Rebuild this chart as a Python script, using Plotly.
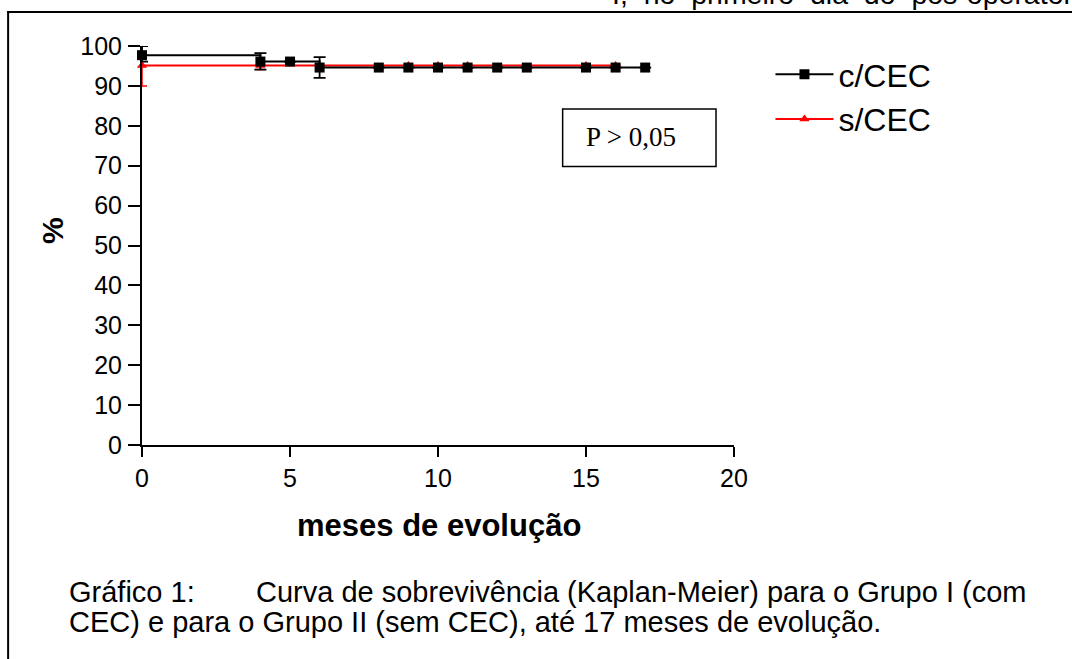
import plotly.graph_objects as go

# Data
c_x = [0, 4, 5, 6, 8, 9, 10, 11, 12, 13, 15, 16, 17]
c_y = [97.7, 96.1, 96.1, 94.6, 94.6, 94.6, 94.6, 94.6, 94.6, 94.6, 94.6, 94.6, 94.6]
c_err_plus = [2.3, 2.1, 0, 2.6, 0, 0, 0, 0, 0, 0, 0, 0, 0]
c_err_minus = [1.6, 2.0, 0, 2.6, 0, 0, 0, 0, 0, 0, 0, 0, 0]

s_x = [0, 4, 9, 10, 11, 15, 16]
s_y = [95.1, 95.1, 95.1, 95.1, 95.1, 95.1, 95.1]
s_err_plus = [4.9, 0, 0, 0, 0, 0, 0]
s_err_minus = [5.1, 1.0, 0, 0, 0, 0, 0]

x_ticks = [0, 5, 10, 15, 20]
y_ticks = [0, 10, 20, 30, 40, 50, 60, 70, 80, 90, 100]

W, H = 1072, 659
L, R, T, B = 142, 734.5, 46, 445


def px(x):
    return (x - L) / (R - L)


def py(y):
    return (B - y) / (B - T)


fig = go.Figure()
fig.add_trace(go.Scatter(
    x=s_x, y=s_y, name="s/CEC", mode="lines+markers", line_shape="hv",
    line=dict(color="#ff0000", width=2),
    marker=dict(symbol="triangle-up", size=9, color="#ff0000"),
    error_y=dict(type="data", array=s_err_plus, arrayminus=s_err_minus,
                 color="#ff0000", thickness=1.5, width=5),
    cliponaxis=False,
))
fig.add_trace(go.Scatter(
    x=c_x, y=c_y, name="c/CEC", mode="lines+markers", line_shape="hv",
    line=dict(color="#000000", width=2),
    marker=dict(symbol="square", size=10, color="#000000"),
    error_y=dict(type="data", array=c_err_plus, arrayminus=c_err_minus,
                 color="#000000", thickness=1.8, width=6),
    cliponaxis=False,
))

font = "Liberation Sans, Arial, sans-serif"
fig.update_layout(
    width=W, height=H,
    margin=dict(l=L, r=W - R, t=T, b=H - B),
    paper_bgcolor="white", plot_bgcolor="white",
    font=dict(family=font, color="black", size=25),
    showlegend=True,
    legend=dict(x=px(771), y=py(47), xanchor="left", yanchor="top",
                traceorder="reversed", font=dict(size=32),
                itemwidth=58, tracegroupgap=6, bgcolor="rgba(0,0,0,0)"),
    xaxis=dict(range=[0, 20], tickvals=x_ticks, showgrid=False, zeroline=False,
               showline=True, linecolor="black", linewidth=2,
               ticks="outside", ticklen=10, tickwidth=2, tickcolor="black",
               tickfont=dict(size=25), ticklabelstandoff=0),
    yaxis=dict(range=[0, 100], tickvals=y_ticks, showgrid=False, zeroline=False,
               showline=True, linecolor="black", linewidth=2,
               ticks="outside", ticklen=12, tickwidth=2, tickcolor="black",
               tickfont=dict(size=25), ticklabelstandoff=1),
)

# axis titles
fig.add_annotation(xref="paper", yref="paper", x=px(439), y=py(525),
                   xanchor="center", yanchor="middle", showarrow=False,
                   text="<b>meses de evolução</b>", font=dict(size=31))
fig.add_annotation(xref="paper", yref="paper", x=px(52), y=py(231),
                   xanchor="center", yanchor="middle", showarrow=False, textangle=-90,
                   text="<b>%</b>", font=dict(size=30))

# frame lines
fig.add_shape(type="line", xref="paper", yref="paper",
              x0=px(7), x1=px(1080), y0=py(12), y1=py(12),
              line=dict(color="black", width=2))
fig.add_shape(type="line", xref="paper", yref="paper",
              x0=px(8), x1=px(8), y0=py(11), y1=py(670),
              line=dict(color="black", width=2))

# P box
fig.add_shape(type="rect", xref="paper", yref="paper",
              x0=px(563), x1=px(716.5), y0=py(109), y1=py(166.5),
              line=dict(color="black", width=1.5))
fig.add_annotation(xref="paper", yref="paper", x=px(631), y=py(137),
                   xanchor="center", yanchor="middle",
                   text="P > 0,05", showarrow=False,
                   font=dict(family="Liberation Serif, Times New Roman, serif", size=27))

# caption
cap_font = dict(size=29)
fig.add_annotation(xref="paper", yref="paper", x=px(67), y=py(592), xanchor="left",
                   yanchor="middle", text="Gráfico 1:", showarrow=False, font=cap_font)
fig.add_annotation(xref="paper", yref="paper", x=px(254), y=py(592), xanchor="left",
                   yanchor="middle",
                   text="Curva de sobrevivência (Kaplan-Meier) para o Grupo I (com",
                   showarrow=False, font=cap_font)
fig.add_annotation(xref="paper", yref="paper", x=px(67), y=py(622), xanchor="left",
                   yanchor="middle",
                   text="CEC) e para o Grupo II (sem CEC), até 17 meses de evolução.",
                   showarrow=False, font=cap_font)

# cut-off text at top
fig.add_annotation(xref="paper", yref="paper", x=px(610), y=py(12), xanchor="left",
                   yanchor="bottom",
                   text="I,  no  primeiro  dia  do  pós-operatório",
                   showarrow=False, font=dict(size=28.5))

fig.write_html("out.html", config={"displayModeBar": False},
               post_script="document.body.style.margin='0';")
